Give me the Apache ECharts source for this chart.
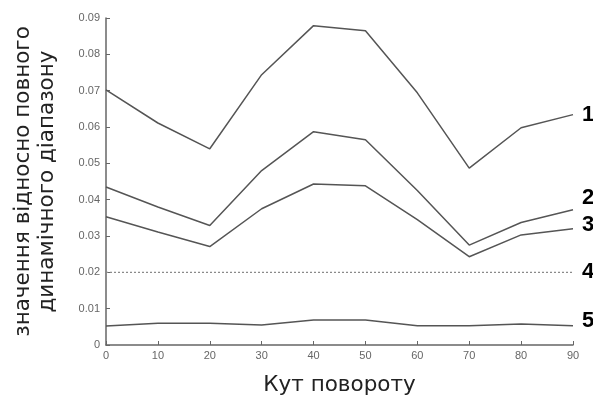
<!DOCTYPE html>
<html>
<head>
<meta charset="utf-8">
<title>Кут повороту</title>
<script type="text/javascript" src="https://cdn.jsdelivr.net/npm/echarts@6/dist/echarts.min.js"></script>
<style>
  html, body { margin: 0; padding: 0; background: #fff; }
</style>
</head>
<body>
    <div id="chart" style="width: 593px;height:401px;"></div>
    <script type="text/javascript">
    // кути повороту, градуси
    var angles = [0, 10, 20, 30, 40, 50, 60, 70, 80, 90];
    // криві 1..5
    var curve1 = [0.0702, 0.0611, 0.0540, 0.0744, 0.0879, 0.0865, 0.0694, 0.0487, 0.0598, 0.0634];
    var curve2 = [0.0435, 0.0380, 0.0329, 0.0480, 0.0587, 0.0565, 0.0425, 0.0275, 0.0337, 0.0372];
    var curve3 = [0.0353, 0.0311, 0.0271, 0.0375, 0.0443, 0.0438, 0.0345, 0.0243, 0.0303, 0.0320];
    var curve4 = [0.02, 0.02, 0.02, 0.02, 0.02, 0.02, 0.02, 0.02, 0.02, 0.02];
    var curve5 = [0.0052, 0.0060, 0.0060, 0.0055, 0.0069, 0.0069, 0.0053, 0.0053, 0.0058, 0.0053];
    var curveNames = ['1', '2', '3', '4', '5'];

    function pairs(vals) {
        var out = [];
        for (var i = 0; i < angles.length; i++) out.push([angles[i], vals[i]]);
        return out;
    }

    function line(name, vals, dashed, dy) {
        return {
            name: name,
            type: 'line',
            data: pairs(vals),
            symbol: 'none',
            silent: true,
            lineStyle: dashed
                ? { color: '#8a8a8a', width: 1.2, type: [2, 2] }
                : { color: '#555', width: 1.5 },
            endLabel: {
                show: true,
                formatter: name,
                distance: 9,
                offset: [0, dy],
                color: '#000',
                fontFamily: 'Liberation Sans',
                fontWeight: 'bold',
                fontSize: 22
            }
        };
    }

    var myChart = echarts.init(document.getElementById('chart'));
    var option = {
        animation: false,
        grid: { left: 106, right: 20, top: 18, bottom: 56 },
        xAxis: {
            type: 'value',
            min: 0, max: 90, interval: 10,
            name: 'Кут повороту',
            nameLocation: 'middle',
            nameGap: 29,
            nameTextStyle: { fontFamily: 'DejaVu Sans', fontSize: 21.5, color: '#222' },
            axisLine: { lineStyle: { color: '#666', width: 1.5 } },
            axisTick: { inside: true, length: 4, lineStyle: { color: '#666' } },
            axisLabel: { fontFamily: 'Liberation Sans', fontSize: 11, color: '#666', margin: 5 },
            splitLine: { show: false }
        },
        yAxis: {
            type: 'value',
            min: 0, max: 0.09, interval: 0.01,
            name: 'значення відносно повного\nдинамічного діапазону',
            nameLocation: 'middle',
            nameGap: 47,
            nameTextStyle: { fontFamily: 'DejaVu Sans', fontSize: 21.5, color: '#222', lineHeight: 24 },
            axisLine: { lineStyle: { color: '#666', width: 1.5 } },
            axisTick: { inside: true, length: 4, lineStyle: { color: '#666' } },
            axisLabel: { fontFamily: 'Liberation Sans', fontSize: 11, color: '#666', margin: 6 },
            splitLine: { show: false }
        },
        series: [
            line(curveNames[0], curve1, false, 0),
            line(curveNames[1], curve2, false, -12),
            line(curveNames[2], curve3, false, -4),
            line(curveNames[3], curve4, true, 0),
            line(curveNames[4], curve5, false, -5)
        ]
    };
    myChart.setOption(option);
    </script>
</body>
</html>
